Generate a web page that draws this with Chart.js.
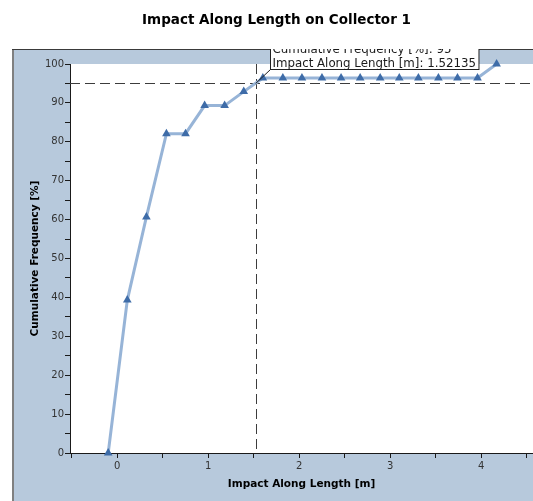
<!DOCTYPE html>
<html>
<head>
<meta charset="utf-8">
<script src="https://cdn.jsdelivr.net/npm/chart.js@4.4.1/dist/chart.umd.min.js"></script>
<style>
  html, body { margin: 0; padding: 0; background: #fff; }
  #wrap { width: 533px; height: 501px; }
</style>
</head>
<body>
<div id="wrap"><canvas id="chart" width="533" height="501"></canvas></div>
<script>
'use strict';

// impact positions [m] and cumulative frequency [%]
const impactAlong = [-0.10, 0.11, 0.32, 0.54, 0.75, 0.96, 1.18, 1.39, 1.60, 1.82, 2.03,
                     2.25, 2.46, 2.67, 2.89, 3.10, 3.31, 3.53, 3.74, 3.96, 4.17];
const cumulativeFreq = [0, 39.3, 60.7, 82.1, 82.1, 89.3, 89.3, 92.9, 96.4, 96.4, 96.4,
                        96.4, 96.4, 96.4, 96.4, 96.4, 96.4, 96.4, 96.4, 96.4, 100];

const xTickValues = [-0.5, 0, 0.5, 1, 1.5, 2, 2.5, 3, 3.5, 4, 4.5];
const xTickLabels = ['', '0', '', '1', '', '2', '', '3', '', '4', ''];
const yTickValues = [0, 5, 10, 15, 20, 25, 30, 35, 40, 45, 50, 55, 60, 65, 70, 75, 80, 85, 90, 95, 100];
const yTickLabels = ['0', '', '10', '', '20', '', '30', '', '40', '', '50', '', '60', '', '70', '', '80', '', '90', '', '100'];

// cursor read-out
const cursorFreq = 95;
const cursorImpact = 1.52135;

const FONT = 'DejaVu Sans';
const AXIS = '#1a1a1a';

const panelPlugin = {
  id: 'panel',
  beforeDraw(chart) {
    const { ctx, chartArea: a } = chart;
    const left = a.left - 58, top = a.top - 15;
    ctx.save();
    ctx.fillStyle = '#b7c9dc';
    ctx.fillRect(left, top, chart.width - left, chart.height - top);
    ctx.fillStyle = '#fff';
    ctx.fillRect(a.left, a.top, a.right - a.left, a.bottom - a.top);
    ctx.fillStyle = '#808080';
    ctx.fillRect(left, top, 2, chart.height - top);
    ctx.fillStyle = '#3a3a3a';
    ctx.fillRect(left, top, chart.width - left, 1);
    ctx.restore();
  }
};

const cursorPlugin = {
  id: 'cursor',
  beforeDatasetsDraw(chart) {
    const { ctx, chartArea: a, scales: { x, y } } = chart;
    const px = Math.round(x.getPixelForValue(cursorImpact)) + 0.5;
    const py = Math.round(y.getPixelForValue(cursorFreq)) + 0.5;
    ctx.save();
    ctx.strokeStyle = '#3c3c3c';
    ctx.lineWidth = 1;
    ctx.setLineDash([10, 5]);
    ctx.beginPath();
    ctx.moveTo(a.left, py); ctx.lineTo(a.right, py);
    ctx.moveTo(px, a.top); ctx.lineTo(px, a.bottom);
    ctx.stroke();
    ctx.restore();
  },
  afterDraw(chart) {
    const { ctx, chartArea: a, scales: { x, y } } = chart;
    const px = x.getPixelForValue(cursorImpact);
    const py = y.getPixelForValue(cursorFreq);
    const lines = [
      `Cumulative Frequency [%]: ${cursorFreq}`,
      `Impact Along Length [m]: ${cursorImpact}`
    ];
    ctx.save();
    // clip to the panel, the box runs off its top edge
    ctx.beginPath();
    ctx.rect(a.left - 58, a.top - 15, chart.width, chart.height);
    ctx.clip();
    ctx.font = `11.8px ${FONT}`;
    const w = Math.max(...lines.map(t => ctx.measureText(t).width)) + 5;
    const lh = 14;
    const bx = Math.round(px + 14) + 0.5;
    const bb = Math.round(py - 14) + 0.5;
    const bt = bb - lh * lines.length - 2;
    ctx.fillStyle = '#fff';
    ctx.fillRect(bx, bt, w, bb - bt);
    ctx.strokeStyle = '#222';
    ctx.lineWidth = 1;
    ctx.strokeRect(bx, bt, w, bb - bt);
    ctx.beginPath();
    ctx.moveTo(bx, bb); ctx.lineTo(px, py);
    ctx.stroke();
    ctx.fillStyle = '#1a1a1a';
    ctx.textBaseline = 'alphabetic';
    lines.forEach((t, i) => ctx.fillText(t, bx + 2, bb - 3 - lh * (lines.length - 1 - i)));
    ctx.restore();
  }
};

new Chart(document.getElementById('chart'), {
  type: 'scatter',
  data: {
    datasets: [{
      data: impactAlong.map((v, i) => ({ x: v, y: cumulativeFreq[i] })),
      showLine: true,
      borderColor: '#97b4d7',
      borderWidth: 3,
      pointStyle: 'triangle',
      pointRadius: 5,
      pointBackgroundColor: '#3e6ca8',
      pointBorderColor: '#3e6ca8',
      pointBorderWidth: 0,
      clip: false
    }]
  },
  options: {
    responsive: false,
    animation: false,
    layout: { autoPadding: false, padding: { left: 20, right: 0, top: 0, bottom: 0 } },
    plugins: {
      legend: { display: false },
      tooltip: { enabled: false },
      title: {
        display: true,
        text: 'Impact Along Length on Collector 1',
        color: '#000',
        font: { family: FONT, size: 13.5, weight: 'bold' },
        padding: { top: 12, bottom: 35.8 }
      }
    },
    scales: {
      x: {
        type: 'linear',
        min: -0.52,
        max: 4.57,
        afterBuildTicks: s => { s.ticks = xTickValues.map(v => ({ value: v })); },
        afterFit: s => { s.height = 48; },
        border: { display: true, color: AXIS, width: 1 },
        grid: { drawOnChartArea: false, drawTicks: true, tickLength: 5, color: AXIS },
        ticks: {
          autoSkip: false, maxRotation: 0, padding: 2, color: '#333',
          font: { family: FONT, size: 10 },
          callback: (v, i) => xTickLabels[i]
        },
        title: {
          display: true, text: 'Impact Along Length [m]', color: '#000',
          font: { family: FONT, size: 10.5, weight: 'bold' },
          padding: { top: 0, bottom: 10.5 }
        }
      },
      y: {
        min: 0,
        max: 100,
        afterBuildTicks: s => { s.ticks = yTickValues.map(v => ({ value: v })); },
        afterFit: s => { s.width = 50; },
        border: { display: true, color: AXIS, width: 1 },
        grid: { drawOnChartArea: false, drawTicks: true, tickLength: 5, color: AXIS },
        ticks: {
          autoSkip: false, padding: 1, color: '#333',
          font: { family: FONT, size: 10 },
          callback: (v, i) => yTickLabels[i]
        },
        title: {
          display: true, text: 'Cumulative Frequency [%]', color: '#000',
          font: { family: FONT, size: 10.5, weight: 'bold' },
          padding: { top: 8.7, bottom: 0 }
        }
      }
    }
  },
  plugins: [panelPlugin, cursorPlugin]
});
</script>
</body>
</html>
